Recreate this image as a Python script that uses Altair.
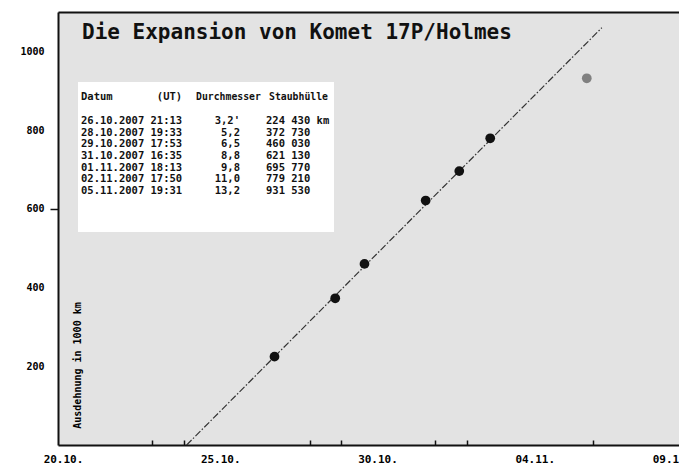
import altair as alt
import pandas as pd

# ---- data ----
dates = ["26.10.2007", "28.10.2007", "29.10.2007", "31.10.2007",
         "01.11.2007", "02.11.2007", "05.11.2007"]
times = ["21:13", "19:33", "17:53", "16:35", "18:13", "17:50", "19:31"]
diameters = ["3,2'", "5,2", "6,5", "8,8", "9,8", "11,0", "13,2"]
coma_km = [224430, 372730, 460030, 621130, 695770, 779210, 931530]
status = ["Messung", "Messung", "Messung", "Messung", "Messung", "Messung", "Ausreißer"]

fit_dates = ["24.10.2007", "06.11.2007"]
fit_times = ["02:10", "07:00"]
fit_values = [0, 1060]

label_dates = ["20.10.2007", "25.10.2007", "30.10.2007", "04.11.2007", "09.11.2007"]
tick_dates = ["23.10.2007", "24.10.2007", "28.10.2007", "29.10.2007",
              "01.11.2007", "02.11.2007", "06.11.2007"]
y_ticks = [200, 400, 600, 800, 1000]

title_text = "Die Expansion von Komet 17P/Holmes"
y_title = "Ausdehnung in 1000 km"
headers = ["Datum", "(UT)", "Durchmesser", "Staubhülle"]

FONT = "DejaVu Sans Mono"
INK = "#111111"
NBSP = "\u00a0"

origin = pd.Timestamp("2007-10-20 00:00")


def day_number(d, t="00:00"):
    ts = pd.to_datetime(d + " " + t, format="%d.%m.%Y %H:%M")
    return float((ts - origin) / pd.Timedelta(days=1))


pts = pd.DataFrame({
    "t": [day_number(d, t) for d, t in zip(dates, times)],
    "value": [v / 1000 for v in coma_km],
    "status": status,
})
fit_df = pd.DataFrame({
    "t": [day_number(d, t) for d, t in zip(fit_dates, fit_times)],
    "value": fit_values,
})
one = pd.DataFrame({"k": [0]})

label_days = [day_number(d) for d in label_dates]
tick_days = [day_number(d) for d in tick_dates]
label_expr = "''"
for d, lab in reversed(list(zip(label_days, label_dates))):
    label_expr = f"datum.value == {d:g} ? '{lab[:6]}' : " + label_expr

PLOT_W = 621   # visible plot width (page is cropped at the right)
PLOT_H = 433
# the date axis continues past the right edge of the page, as in the reference
xscale = alt.Scale(domain=[0, 20], range=[0, 629], nice=False, zero=False)
yscale = alt.Scale(domain=[0, 1100], nice=False, zero=False)

# table white box
box = alt.Chart(one).mark_rect(color="white").encode(
    x=alt.value(20), x2=alt.value(276), y=alt.value(70), y2=alt.value(220)
)

fit = alt.Chart(fit_df).mark_line(
    color="#333333", strokeWidth=1.2, strokeDash=[7, 2, 1.5, 2]
).encode(
    x=alt.X("t:Q", scale=xscale, axis=alt.Axis(
        orient="top", domain=True, domainColor=INK, domainWidth=2,
        ticks=False, labels=False, grid=False, title=None)),
    y=alt.Y("value:Q", scale=yscale),
)

inner_ticks = alt.Chart(fit_df).mark_point(opacity=0).encode(
    x=alt.X("t:Q", scale=xscale, axis=alt.Axis(
        orient="top", offset=-PLOT_H, values=tick_days, domain=False,
        labels=False, ticks=True, tickSize=5, tickColor=INK, tickWidth=1.5,
        grid=False, title=None)),
    y=alt.Y("value:Q", scale=yscale),
)

points = alt.Chart(pts).mark_circle(size=95, opacity=1).encode(
    x=alt.X("t:Q", scale=xscale, axis=alt.Axis(
        orient="bottom", values=label_days, labelExpr=label_expr,
        ticks=False, tickSize=0, grid=False, domain=True,
        domainColor=INK, domainWidth=2,
        labelFont=FONT, labelFontSize=11, labelFontWeight="bold",
        labelColor="#000000", labelPadding=8, labelOffset=5,
        labelAlign={"condition": {"test": "datum.value >= 20", "value": "right"},
                    "value": "center"},
        labelFlush=False, labelBound=False, labelOverlap=False, title=None)),
    y=alt.Y("value:Q", scale=yscale, axis=alt.Axis(
        orient="left", values=y_ticks, format="d", grid=False, domain=True,
        domainColor=INK, domainWidth=2, tickSize=8, tickColor=INK,
        tickWidth=1.5,
        tickOpacity={"condition": {"test": "datum.value == 600", "value": 1},
                     "value": 0},
        labelPadding=6, labelFont=FONT, labelFontSize=10,
        labelFontWeight="bold", labelColor="#000000",
        title=y_title, titleX=19, titleY=353, titleAngle=270,
        titleAlign="center", titleBaseline="middle", titleFont=FONT,
        titleFontSize=10, titleFontWeight="bold", titleColor="#000000")),
    color=alt.Color("status:N", scale=alt.Scale(
        domain=["Messung", "Ausreißer"], range=[INK, "#808080"]), legend=None),
)

title_layer = alt.Chart(one).mark_text(
    align="left", baseline="alphabetic", font=FONT, fontSize=21,
    fontWeight="bold", color=INK
).encode(x=alt.value(24), y=alt.value(27), text=alt.value(title_text))

col1_head = headers[0] + NBSP * (16 - len(headers[0]) - len(headers[1])) + headers[1]
col1_lines = [f"{d}{NBSP}{t}" for d, t in zip(dates, times)]
col2_lines = [(s if s.endswith("'") else s + NBSP) for s in diameters]
col3_lines = [f"{v // 1000}{NBSP}{v % 1000:03d}" + (NBSP + "km" if i == 0 else "")
              for i, v in enumerate(coma_km)]

HEAD_Y = 88
ROWS_Y = 112
text_kw = dict(baseline="alphabetic", font=FONT, fontWeight="bold",
               color=INK, lineHeight=11.65)
col1h = alt.Chart(one).mark_text(align="left", fontSize=10.5, **text_kw).encode(
    x=alt.value(23), y=alt.value(HEAD_Y), text=alt.value(col1_head))
col1 = alt.Chart(one).mark_text(align="left", fontSize=10.5, **text_kw).encode(
    x=alt.value(23), y=alt.value(ROWS_Y), text=alt.value(col1_lines))
col2h = alt.Chart(one).mark_text(align="left", fontSize=9.8, **text_kw).encode(
    x=alt.value(138), y=alt.value(HEAD_Y), text=alt.value(headers[2]))
col2 = alt.Chart(one).mark_text(align="right", fontSize=10.5, **text_kw).encode(
    x=alt.value(182), y=alt.value(ROWS_Y), text=alt.value(col2_lines))
col3h = alt.Chart(one).mark_text(align="left", fontSize=9.8, **text_kw).encode(
    x=alt.value(211), y=alt.value(HEAD_Y), text=alt.value(headers[3]))
col3 = alt.Chart(one).mark_text(align="left", fontSize=10.5, **text_kw).encode(
    x=alt.value(208), y=alt.value(ROWS_Y), text=alt.value(col3_lines))

chart = alt.layer(
    box, fit, inner_ticks, points, title_layer,
    col1h, col1, col2h, col2, col3h, col3
).resolve_axis(x="independent").properties(
    width=PLOT_W, height=PLOT_H,
    autosize=alt.AutoSizeParams(type="none"),
    padding={"left": 50, "top": 4, "right": 0, "bottom": 20},
    background="white",
).configure_view(stroke=None, fill="#e3e3e3")

chart.save("out.html", embed_options={"renderer": "svg", "actions": False})
